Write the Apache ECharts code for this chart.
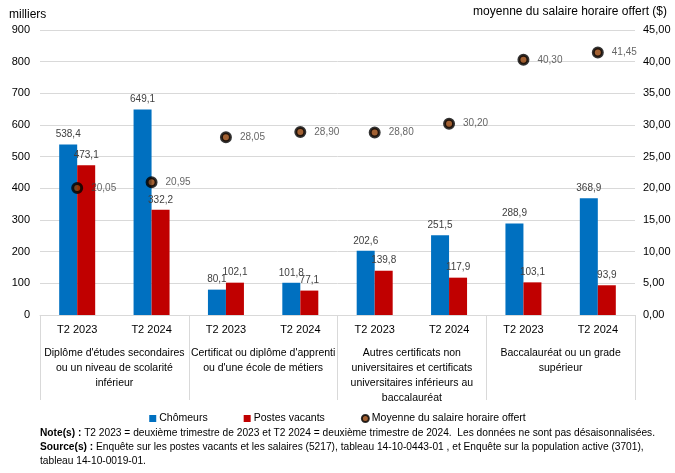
<!DOCTYPE html>
<html><head><meta charset="utf-8">
<script src="https://cdn.jsdelivr.net/npm/echarts@6/dist/echarts.min.js"></script>
<style>html,body{margin:0;padding:0;background:#fff}#c{width:675px;height:473px}</style>
</head><body><div id="c"></div>
<script>
const periods = ['T2 2023','T2 2024','T2 2023','T2 2024','T2 2023','T2 2024','T2 2023','T2 2024'];
const groups = ["Diplôme d'études secondaires\nou un niveau de scolarité\ninférieur",
  "Certificat ou diplôme d'apprenti\nou d'une école de métiers",
  "Autres certificats non\nuniversitaires et certificats\nuniversitaires inférieurs au\nbaccalauréat",
  "Baccalauréat ou un grade\nsupérieur"];
const chomeurs = [538.4, 649.1, 80.1, 101.8, 202.6, 251.5, 288.9, 368.9];
const postes = [473.1, 332.2, 102.1, 77.1, 139.8, 117.9, 103.1, 93.9];
const salaire = [20.05, 20.95, 28.05, 28.90, 28.80, 30.20, 40.30, 41.45];
const leftTicks = {min:0, max:900, interval:100};
const rightTicks = {min:0, max:45, interval:5};

const FONT = 'Liberation Sans';
const fmt1 = v => v.toFixed(1).replace('.', ',');
const fmt2 = v => v.toFixed(2).replace('.', ',');
const chart = echarts.init(document.getElementById('c'), null, {renderer:'canvas'});
chart.setOption({
  animation:false,
  textStyle:{fontFamily:FONT},
  grid:{left:40, right:40, top:30, bottom:158},
  legend:{
    left:'center', top:408, itemWidth:7, itemHeight:7, itemGap:36,
    textStyle:{fontSize:10.5, color:'#000', fontFamily:FONT, padding:[0,0,0,-2]},
    data:[{name:'Chômeurs', icon:'rect'},{name:'Postes vacants', icon:'rect'},{name:'Moyenne du salaire horaire offert', icon:'circle'}]
  },
  xAxis:[
    {type:'category', data:periods, position:'bottom',
     axisLine:{show:true, lineStyle:{color:'#d9d9d9'}}, axisTick:{show:false},
     axisLabel:{margin:9, fontSize:11, color:'#000', interval:0}},
    {type:'category', data:groups, position:'bottom', gridIndex:0,
     axisLine:{show:false},
     axisTick:{show:true, length:85, lineStyle:{color:'#d9d9d9'}},
     axisLabel:{margin:31, fontSize:10.5, color:'#000', interval:0, lineHeight:15, verticalAlign:'top'}}
  ],
  yAxis:[
    {type:'value', min:leftTicks.min, max:leftTicks.max, interval:leftTicks.interval,
     axisLine:{show:false}, axisTick:{show:false},
     axisLabel:{fontSize:11, color:'#000', margin:10},
     splitLine:{lineStyle:{color:'#d9d9d9'}}},
    {type:'value', min:rightTicks.min, max:rightTicks.max, interval:rightTicks.interval, position:'right',
     axisLine:{show:false}, axisTick:{show:false},
     axisLabel:{fontSize:11, color:'#000', margin:8, formatter:v=>fmt2(v)},
     splitLine:{show:false}}
  ],
  graphic:[
    {type:'text', left:9, top:9, style:{text:'milliers', fontSize:12, fill:'#000', fontFamily:FONT}},
    {type:'text', right:8, top:6, style:{text:'moyenne du salaire horaire offert ($)', fontSize:12, fill:'#000', fontFamily:FONT}},
    {type:'text', left:40, top:426, style:{
      text:'{b|Note(s) :} T2 2023 = deuxième trimestre de 2023 et T2 2024 = deuxième trimestre de 2024.  Les données ne sont pas désaisonnalisées.\n{b|Source(s) :} Enquête sur les postes vacants et les salaires (5217), tableau 14-10-0443-01 , et Enquête sur la population active (3701),\ntableau 14-10-0019-01.',
      fontSize:10.2, lineHeight:14, fill:'#000', fontFamily:FONT,
      rich:{b:{fontWeight:'bold', fontSize:10.2, fontFamily:FONT, fill:'#000'}}}}
  ],
  series:[
    {name:'Chômeurs', type:'bar', data:chomeurs, barWidth:18, barGap:'0%', itemStyle:{color:'#0070C0'},
     label:{show:true, position:'top', distance:5, fontSize:10, color:'#404040', formatter:p=>fmt1(p.value)}},
    {name:'Postes vacants', type:'bar', data:postes, barWidth:18, barGap:'0%', itemStyle:{color:'#C00000'},
     label:{show:true, position:'top', distance:5, fontSize:10, color:'#404040', formatter:p=>fmt1(p.value)}},
    {name:'Moyenne du salaire horaire offert', type:'scatter', yAxisIndex:1, data:salaire,
     symbol:'circle', symbolSize:9, itemStyle:{color:'#8B3A00', borderColor:'#000', borderWidth:3},
     label:{show:true, position:'right', distance:8, fontSize:10, color:'#404040', formatter:p=>fmt2(p.value)}}
  ]
});
</script></body></html>
